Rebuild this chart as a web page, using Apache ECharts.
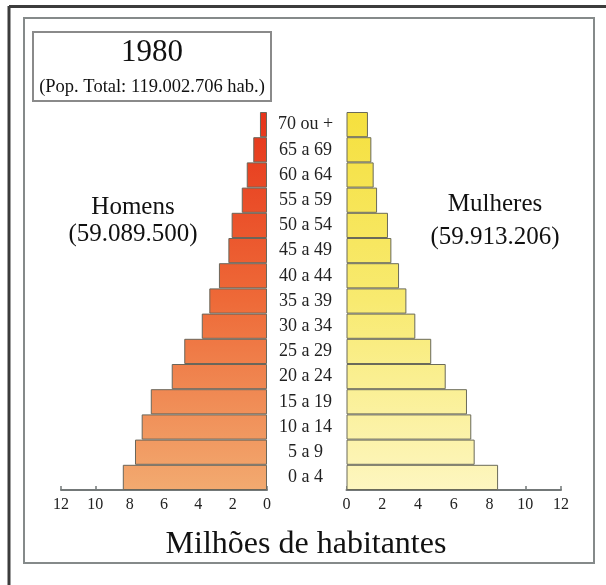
<!DOCTYPE html>
<html>
<head>
<meta charset="utf-8">
<script src="https://cdn.jsdelivr.net/npm/echarts@6/dist/echarts.min.js"></script>
<style>
html,body{margin:0;padding:0;background:#fff;}
#chart{width:606px;height:585px;}
</style>
</head>
<body>
<div id="chart"></div>
<script>
var categories = ['0 a 4','5 a 9','10 a 14','15 a 19','20 a 24','25 a 29','30 a 34','35 a 39','40 a 44','45 a 49','50 a 54','55 a 59','60 a 64','65 a 69','70 ou +'];
var homens = [8.40, 7.69, 7.30, 6.77, 5.55, 4.82, 3.80, 3.36, 2.80, 2.25, 2.06, 1.47, 1.18, 0.80, 0.41];
var mulheres = [8.48, 7.17, 6.98, 6.74, 5.55, 4.74, 3.85, 3.35, 2.94, 2.51, 2.32, 1.71, 1.52, 1.39, 1.20];
var xTicks = [0, 2, 4, 6, 8, 10, 12];
var titleText = '1980';
var subtitleText = '(Pop. Total: 119.002.706 hab.)';
var leftLabel = ['Homens', '(59.089.500)'];
var rightLabel = ['Mulheres', '(59.913.206)'];
var axisTitle = 'Milhões de habitantes';

var serif = '"Liberation Serif", "DejaVu Serif", serif';
var chart = echarts.init(document.getElementById('chart'), null, {renderer: 'canvas'});

var leftGrad = new echarts.graphic.LinearGradient(0, 112, 0, 490, [
  {offset: 0, color: '#e6341a'},
  {offset: 0.5, color: '#ee6a38'},
  {offset: 1, color: '#f2aa70'}
], true);
var rightGrad = new echarts.graphic.LinearGradient(0, 112, 0, 490, [
  {offset: 0, color: '#f5e03e'},
  {offset: 0.5, color: '#f8ea70'},
  {offset: 1, color: '#fdf6c0'}
], true);

function xAxisCfg(gridIndex, inverse) {
  return {
    gridIndex: gridIndex, type: 'value', min: xTicks[0], max: xTicks[xTicks.length - 1], interval: 2,
    inverse: inverse,
    axisLine: {show: true, lineStyle: {color: '#737878', width: 2}},
    axisTick: {show: true, length: 4, inside: true, lineStyle: {color: '#737878', width: 1.5}},
    axisLabel: {show: true, margin: 7, fontFamily: serif, fontSize: 16, color: '#222'},
    splitLine: {show: false}
  };
}

var option = {
  animation: false,
  backgroundColor: '#fff',
  grid: [
    {left: 61, right: 339, top: 112, bottom: 95},
    {left: 346.5, right: 45, top: 112, bottom: 95}
  ],
  xAxis: [xAxisCfg(0, true), xAxisCfg(1, false)],
  yAxis: [
    {gridIndex: 0, type: 'category', data: categories, position: 'right',
     axisLine: {show: false}, axisTick: {show: false}, axisLabel: {show: false}},
    {gridIndex: 1, type: 'category', data: categories, position: 'left',
     axisLine: {show: false}, axisTick: {show: false},
     axisLabel: {show: true, align: 'center', margin: 41, fontFamily: serif, fontSize: 18, color: '#222'}}
  ],
  series: [
    {type: 'bar', xAxisIndex: 0, yAxisIndex: 0, data: homens, barCategoryGap: '0%',
     itemStyle: {color: leftGrad, borderColor: '#6a665a', borderWidth: 1}},
    {type: 'bar', xAxisIndex: 1, yAxisIndex: 1, data: mulheres, barCategoryGap: '0%',
     itemStyle: {color: rightGrad, borderColor: '#6a6a5a', borderWidth: 1}}
  ],
  graphic: [
    {type: 'line', shape: {x1: 9, y1: 6.5, x2: 606, y2: 6.5}, style: {stroke: '#3c3c3c', lineWidth: 3}, z: 10},
    {type: 'line', shape: {x1: 9, y1: 6, x2: 9, y2: 585}, style: {stroke: '#3c3c3c', lineWidth: 3}, z: 10},
    {type: 'rect', shape: {x: 24, y: 18, width: 570, height: 545}, style: {fill: 'none', stroke: '#858a8a', lineWidth: 2}, z: 10},
    {type: 'rect', shape: {x: 33, y: 32, width: 238, height: 69}, style: {fill: 'none', stroke: '#8a8a8a', lineWidth: 2}, z: 10},
    {type: 'text', x: 152, y: 53, style: {text: titleText, font: '31px ' + serif, fill: '#111', align: 'center', verticalAlign: 'middle'}, z: 10},
    {type: 'text', x: 152, y: 87, style: {text: subtitleText, font: '18.5px ' + serif, fill: '#111', align: 'center', verticalAlign: 'middle'}, z: 10},
    {type: 'text', x: 133, y: 207, style: {text: leftLabel[0], font: '25px ' + serif, fill: '#111', align: 'center', verticalAlign: 'middle'}, z: 10},
    {type: 'text', x: 133, y: 234, style: {text: leftLabel[1], font: '25px ' + serif, fill: '#111', align: 'center', verticalAlign: 'middle'}, z: 10},
    {type: 'text', x: 495, y: 204, style: {text: rightLabel[0], font: '25px ' + serif, fill: '#111', align: 'center', verticalAlign: 'middle'}, z: 10},
    {type: 'text', x: 495, y: 237, style: {text: rightLabel[1], font: '25px ' + serif, fill: '#111', align: 'center', verticalAlign: 'middle'}, z: 10},
    {type: 'text', x: 306, y: 545, style: {text: axisTitle, font: '32px ' + serif, fill: '#111', align: 'center', verticalAlign: 'middle'}, z: 10}
  ]
};
chart.setOption(option);
</script>
</body>
</html>
